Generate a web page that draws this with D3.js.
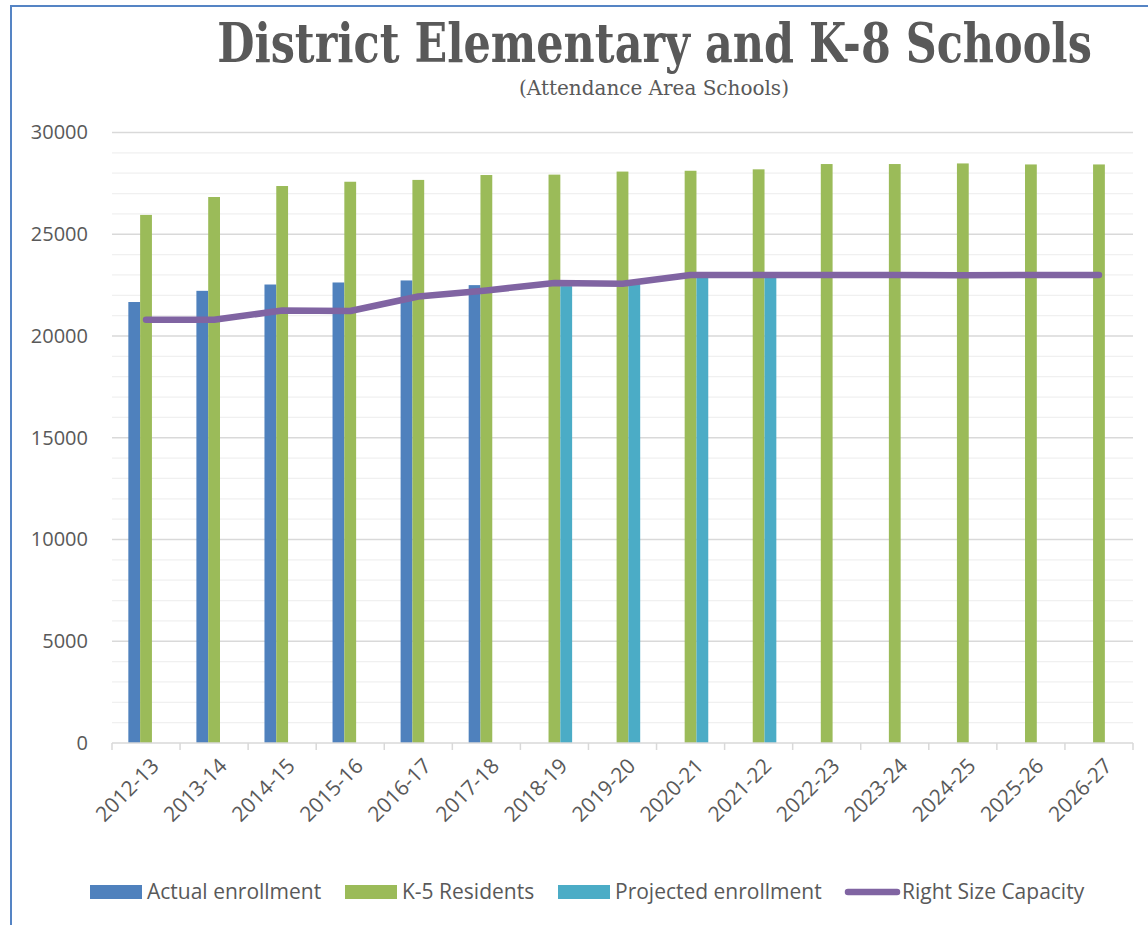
<!DOCTYPE html>
<html>
<head>
<meta charset="utf-8">
<script src="https://cdn.jsdelivr.net/npm/d3@7"></script>
<style>
  body { margin: 0; background: #fff; }
  svg { display: block; }
</style>
</head>
<body>
<div id="chart"></div>
<script>
// school years on the x axis
let years = ['2012-13', '2013-14', '2014-15', '2015-16', '2016-17', '2017-18', '2018-19',
  '2019-20', '2020-21', '2021-22', '2022-23', '2023-24', '2024-25', '2025-26', '2026-27'];

// series values (null = no bar that year)
let actualEnrollment = [21670, 22220, 22530, 22630, 22730, 22500, null, null, null, null, null, null, null, null, null];
let k5Residents = [25950, 26830, 27370, 27580, 27670, 27910, 27930, 28080, 28120, 28190, 28450, 28450, 28480, 28430, 28430];
let projectedEnrollment = [null, null, null, null, null, null, 22450, 22550, 22920, 22960, null, null, null, null, null];
let rightSizeCapacity = [20800, 20800, 21250, 21230, 21940, 22240, 22600, 22570, 23000, 23000, 23000, 23000, 22980, 23000, 23000];

let barSeries = ['Actual enrollment', 'K-5 Residents', 'Projected enrollment'];
let barValues = [actualEnrollment, k5Residents, projectedEnrollment];
let lineName = 'Right Size Capacity';
let yTicks = [0, 5000, 10000, 15000, 20000, 25000, 30000];

let colors = {
  'Actual enrollment': '#4f81bd',
  'K-5 Residents': '#9bbb59',
  'Projected enrollment': '#4bacc6',
  'Right Size Capacity': '#8064a2'
};

let W = 1148, H = 925;
let plot = { left: 112, right: 1133, top: 132.5, bottom: 743 };
let textGray = '#595959';

let svg = d3.select('#chart').
append('svg').
attr('width', W).
attr('height', H);

// outer frame (left and top edges visible)
svg.append('path').
attr('d', 'M11,' + H + ' L11,6 L' + W + ',6').
attr('fill', 'none').
attr('stroke', '#5584c4').
attr('stroke-width', 2);

// squeeze a text horizontally so it spans the wanted width
function fitWidth(sel, cx, cy, wanted) {
  let len = sel.node().getComputedTextLength();
  sel.attr('transform', 'translate(' + cx + ',' + cy + ') scale(' + (wanted / len) + ',1)');
}

// title
let title = svg.append('text').
attr('text-anchor', 'middle').
attr('font-family', '"DejaVu Serif", serif').
attr('font-weight', 'bold').
attr('font-size', 54).
attr('fill', textGray).
text('District Elementary and K-8 Schools');
fitWidth(title, 654.5, 62, 875);

let subtitle = svg.append('text').
attr('text-anchor', 'middle').
attr('font-family', '"DejaVu Serif", serif').
attr('font-size', 20).
attr('fill', textGray).
text('(Attendance Area Schools)');
fitWidth(subtitle, 654, 95, 270);

// scales
let x = d3.scaleBand().
domain(years).
range([plot.left, plot.right]).
paddingInner(0.48).
paddingOuter(0.24);

let xs = d3.scaleBand().
domain(barSeries).
range([0, x.bandwidth()]);

let y = d3.scaleLinear().
domain([0, 30000]).
range([plot.bottom, plot.top]);

// gridlines: minor every 1000, major every 5000
let grid = svg.append('g');
grid.selectAll('line').
data(d3.range(1000, 30001, 1000)).
enter().
append('line').
attr('x1', plot.left).
attr('x2', plot.right).
attr('y1', d => y(d)).
attr('y2', d => y(d)).
attr('stroke', d => d % 5000 === 0 ? '#d9d9d9' : '#f0f0f0').
attr('stroke-width', 1.3);

// y axis labels
let yAxis = svg.append('g').
attr('transform', 'translate(' + plot.left + ',0)').
call(d3.axisLeft(y).tickValues(yTicks).tickSize(0).tickPadding(24).tickFormat(d3.format('d')));
yAxis.select('.domain').remove();
yAxis.selectAll('text').
attr('font-family', '"Open Sans", sans-serif').
attr('font-size', 20).
attr('fill', textGray);

// bars
barSeries.forEach(function (name, si) {
  svg.append('g').
  selectAll('rect').
  data(years.map((yr, i) => ({ year: yr, value: barValues[si][i] })).filter(d => d.value != null)).
  enter().
  append('rect').
  attr('x', d => x(d.year) + xs(name)).
  attr('width', xs.bandwidth()).
  attr('y', d => y(d.value)).
  attr('height', d => y(0) - y(d.value)).
  attr('fill', colors[name]);
});

// x axis: line with tick marks at category boundaries
let xAxis = svg.append('g');
xAxis.append('line').
attr('x1', plot.left).
attr('x2', plot.right).
attr('y1', plot.bottom).
attr('y2', plot.bottom).
attr('stroke', '#d9d9d9').
attr('stroke-width', 1.5);

let step = x.step();
xAxis.selectAll('.tick').
data(d3.range(years.length + 1)).
enter().
append('line').
attr('x1', i => plot.left + i * step).
attr('x2', i => plot.left + i * step).
attr('y1', plot.bottom).
attr('y2', plot.bottom + 7).
attr('stroke', '#d9d9d9').
attr('stroke-width', 1.5);

xAxis.selectAll('text').
data(years).
enter().
append('text').
attr('transform', d => 'translate(' + (x(d) + x.bandwidth() / 2 + 9) + ',' + (plot.bottom + 19) + ') rotate(-45)').
attr('text-anchor', 'end').
attr('dy', '0.35em').
attr('font-family', '"Open Sans", sans-serif').
attr('font-size', 21).
attr('fill', textGray).
text(d => d);

// capacity line
let line = d3.line().
x((d, i) => x(years[i]) + x.bandwidth() / 2).
y(d => y(d));

svg.append('path').
datum(rightSizeCapacity).
attr('d', line).
attr('fill', 'none').
attr('stroke', colors[lineName]).
attr('stroke-width', 6.5).
attr('stroke-linecap', 'round').
attr('stroke-linejoin', 'round');

// legend
let legendItems = [
  { name: 'Actual enrollment', x: 90, type: 'rect' },
  { name: 'K-5 Residents', x: 345, type: 'rect' },
  { name: 'Projected enrollment', x: 558, type: 'rect' },
  { name: 'Right Size Capacity', x: 845, type: 'line' }];

let legend = svg.append('g');
legendItems.forEach(function (item) {
  if (item.type === 'rect') {
    legend.append('rect').
    attr('x', item.x).
    attr('y', 885).
    attr('width', 52).
    attr('height', 14).
    attr('fill', colors[item.name]);
  } else {
    legend.append('line').
    attr('x1', item.x + 3).
    attr('x2', item.x + 52).
    attr('y1', 892).
    attr('y2', 892).
    attr('stroke', colors[item.name]).
    attr('stroke-width', 6.5).
    attr('stroke-linecap', 'round');
  }
  legend.append('text').
  attr('x', item.x + 57).
  attr('y', 892).
  attr('dy', '0.35em').
  attr('font-family', '"Open Sans", sans-serif').
  attr('font-size', 21).
  attr('fill', textGray).
  text(item.name);
});
</script>
</body>
</html>
